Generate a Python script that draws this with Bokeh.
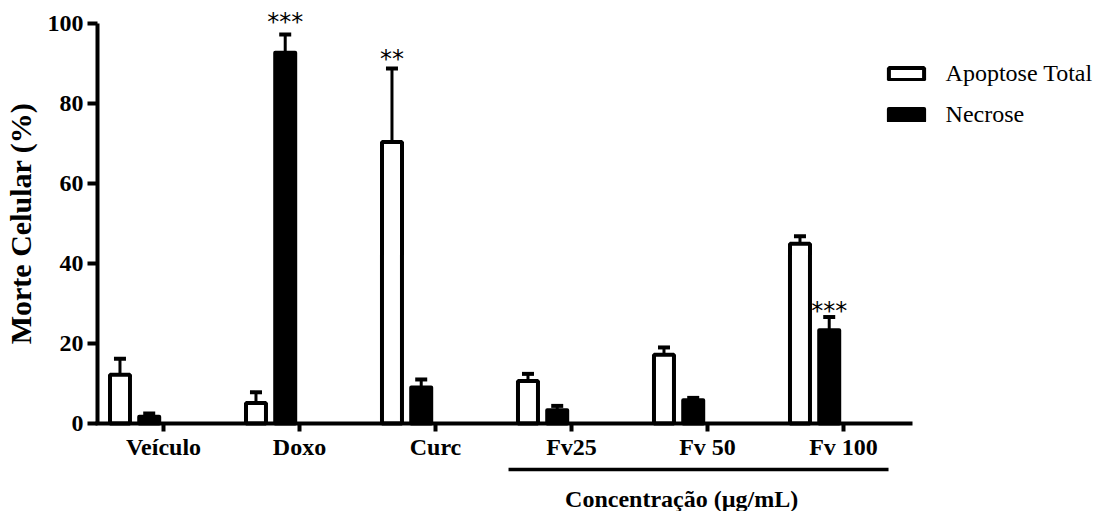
from bokeh.plotting import figure
from bokeh.models import (Range1d, FixedTicker, Whisker, TeeHead, ColumnDataSource,
                          Legend, LegendItem)
from bokeh.core.properties import value
from bokeh.embed import file_html
from bokeh.resources import INLINE

# ---- data ----
categories = ["Veículo", "Doxo", "Curc", "Fv25", "Fv 50", "Fv 100"]
apoptose = [12.2, 5.1, 70.3, 10.6, 17.2, 44.9]
apoptose_err = [4.0, 2.7, 18.4, 1.8, 1.8, 1.9]
necrose = [1.7, 92.6, 9.0, 3.3, 5.8, 23.3]
necrose_err = [0.8, 4.6, 2.0, 1.1, 0.6, 3.3]

star_cat = [1, 2, 5]
star_series = ["necrose", "apoptose", "necrose"]
star_text = ["***", "**", "***"]
star_y = [100.4, 91.1, 28.2]

y_ticks = [0, 20, 40, 60, 80, 100]
y_label = "Morte Celular (%)"
group_label = "Concentração (µg/mL)"
group_first, group_last = 3, 5

# ---- layout / style ----
WHITE_OFF, BLACK_OFF, BAR_W = -0.32, -0.105, 0.147
SERIF = "Liberation Serif"

xs = list(range(len(categories)))
src = ColumnDataSource(dict(
    wx=[x + WHITE_OFF for x in xs],
    bx=[x + BLACK_OFF for x in xs],
    apop=apoptose,
    apop_hi=[a + e for a, e in zip(apoptose, apoptose_err)],
    nec=necrose,
    nec_hi=[a + e for a, e in zip(necrose, necrose_err)],
))

p = figure(width=1100, height=511, x_range=Range1d(-1.1985, 6.8897),
           y_range=Range1d(-21.98, 105.67), output_backend="svg",
           toolbar_location=None, min_border=0)
p.outline_line_color = None
p.grid.visible = False
p.background_fill_color = "white"

r1 = p.vbar(x="wx", top="apop", bottom=0, width=BAR_W, fill_color="white",
            line_color="black", line_width=4, source=src)
r2 = p.vbar(x="bx", top="nec", bottom=0, width=BAR_W, fill_color="black",
            line_color="black", line_width=4, line_join="round", source=src)

for base, lo, hi in (("wx", "apop", "apop_hi"), ("bx", "nec", "nec_hi")):
    w = Whisker(source=src, base=base, lower=lo, upper=hi, dimension="height",
                line_width=3, line_color="black",
                upper_head=TeeHead(size=12, line_width=4, line_color="black"),
                lower_head=None)
    p.add_layout(w)

# stars
sx = [c + (BLACK_OFF if s == "necrose" else WHITE_OFF) for c, s in zip(star_cat, star_series)]
p.text(x=sx, y=star_y, text=star_text, text_font=value("DejaVu Sans"),
       text_font_size="24px", text_align="center", text_baseline="alphabetic",
       text_color="black")

# x axis
xa = p.xaxis[0]
xa.fixed_location = 0
xa.bounds = (-0.5, 5.51)
xa.ticker = FixedTicker(ticks=xs)
xa.major_label_overrides = {i: c for i, c in enumerate(categories)}
xa.minor_tick_line_color = None
xa.axis_line_width = 4
xa.major_tick_line_width = 4
xa.major_tick_in = 0
xa.major_tick_out = 8
xa.major_label_standoff = 2
xa.major_label_text_font = SERIF
xa.major_label_text_font_style = "bold"
xa.major_label_text_font_size = "24px"
xa.major_label_text_color = "black"

# y axis
ya = p.yaxis[0]
ya.fixed_location = -0.485
ya.bounds = (0, 100)
ya.ticker = FixedTicker(ticks=y_ticks)
ya.minor_tick_line_color = None
ya.axis_line_width = 4
ya.major_tick_line_width = 4
ya.major_tick_in = 0
ya.major_tick_out = 10
ya.major_label_standoff = 4
ya.major_label_text_font = SERIF
ya.major_label_text_font_style = "bold"
ya.major_label_text_font_size = "24px"
ya.major_label_text_color = "black"
ya.axis_label = y_label
ya.axis_label_text_font = SERIF
ya.axis_label_text_font_style = "bold"
ya.axis_label_text_font_size = "30px"
ya.axis_label_text_color = "black"
ya.axis_label_standoff = 8

# group underline and label
p.segment(x0=[group_first - 0.463], y0=[-11.5], x1=[group_last + 0.331], y1=[-11.5],
          line_width=3.5, line_color="black")
p.text(x=[(group_first + group_last) / 2 - 0.19], y=[-18.9], text=[group_label],
       text_font=value(SERIF), text_font_style="bold", text_font_size="24px",
       text_align="center", text_baseline="alphabetic", text_color="black")

legend = Legend(items=[LegendItem(label="Apoptose Total", renderers=[r1]),
                       LegendItem(label="Necrose", renderers=[r2])],
                location=(883.6, 383.5), glyph_width=44, glyph_height=15,
                label_text_font=SERIF, label_text_font_size="24px",
                label_text_color="black",
                label_standoff=18, spacing=14, padding=0, margin=0,
                border_line_color=None, background_fill_alpha=0)
p.add_layout(legend)

open("out.html", "w").write(file_html(p, INLINE))
